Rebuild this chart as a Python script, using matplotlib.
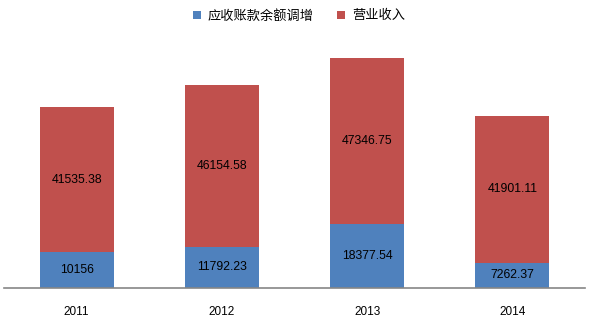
import matplotlib.pyplot as plt
from matplotlib.patches import Patch

plt.rcParams['font.family'] = ['Noto Sans CJK SC', 'DejaVu Sans']

years = ["2011", "2012", "2013", "2014"]
receivable_adj = [10156, 11792.23, 18377.54, 7262.37]
revenue = [41535.38, 46154.58, 47346.75, 41901.11]
receivable_labels = ["10156", "11792.23", "18377.54", "7262.37"]
revenue_labels = ["41535.38", "46154.58", "47346.75", "41901.11"]

C_BLUE = "#4F81BD"
C_RED = "#C0504D"

fig = plt.figure(figsize=(5.93, 3.29), dpi=100)
ax = fig.add_axes([4 / 593, 41 / 329, 581 / 593, 245 / 329])

x = range(len(years))
ax.bar(x, receivable_adj, width=0.51, color=C_BLUE, zorder=2)
ax.bar(x, revenue, width=0.51, bottom=receivable_adj, color=C_RED, zorder=2)

for i in x:
    ax.text(i, receivable_adj[i] / 2, receivable_labels[i], ha="center", va="center",
            fontsize=8.8, family="Liberation Sans", color="black")
    ax.text(i, receivable_adj[i] + revenue[i] / 2, revenue_labels[i], ha="center",
            va="center", fontsize=8.8, family="Liberation Sans", color="black")

ax.set_xlim(-0.5, 3.5)
ax.set_ylim(0, 70000)
ax.set_yticks([])
ax.set_xticks(list(x))
ax.set_xticklabels(years, fontsize=8.5, family="Liberation Sans")
ax.tick_params(axis="x", length=0, pad=13)
for s in ["top", "right", "left"]:
    ax.spines[s].set_visible(False)
ax.spines["bottom"].set_color("#868686")
ax.spines["bottom"].set_linewidth(1.2)

handles = [Patch(facecolor=C_BLUE, label="应收账款余额调增"),
           Patch(facecolor=C_RED, label="营业收入")]
fig.legend(handles=handles, loc="center", bbox_to_anchor=(299 / 593, 1 - 16 / 329),
           ncol=2, frameon=False, fontsize=9.5, handlelength=0.6, handleheight=0.6,
           handletextpad=0.5, columnspacing=1.8)

fig.savefig("out.png", dpi=100)
